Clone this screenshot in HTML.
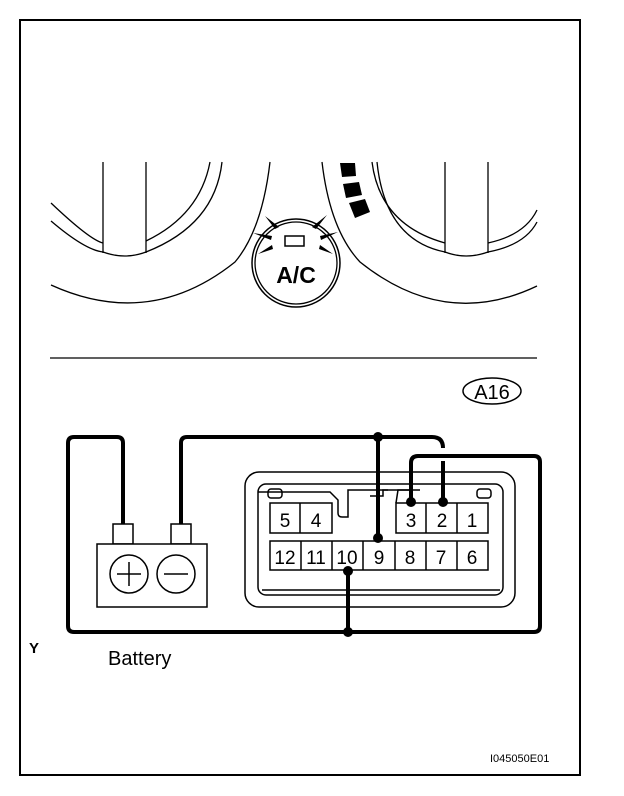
<!DOCTYPE html>
<html><head><style>
body{margin:0;background:#fff}
svg{display:block}
text{font-family:"Liberation Sans",sans-serif;fill:#000}
</style></head><body>
<svg width="624" height="796" viewBox="0 0 624 796" xmlns="http://www.w3.org/2000/svg">
<rect x="20" y="20" width="560" height="755" fill="none" stroke="#000" stroke-width="2"/>
<g fill="none" stroke="#000" stroke-width="1.3">
<!-- left dial -->
<path d="M51,203 Q90,240 103,243"/>
<path d="M146,241 Q200,215 210,162"/>
<path d="M51,221 Q85,250 103,252 Q125,260 146,252 Q215,225 222,162"/>
<line x1="103" y1="162" x2="103" y2="253"/>
<line x1="146" y1="162" x2="146" y2="253"/>
<path d="M51,285 Q150,330 235,262 Q262,230 270,162"/>
<!-- right dial -->
<path d="M322,162 Q330,230 360,262 Q445,330 537,286"/>
<path d="M372,162 Q380,225 445,243"/>
<path d="M488,243 Q525,235 537,210"/>
<path d="M377,162 Q385,240 445,252 Q466,260 488,252 Q525,245 537,222"/>
<line x1="445" y1="162" x2="445" y2="253"/>
<line x1="488" y1="162" x2="488" y2="253"/>
<!-- A/C button -->
<circle cx="296" cy="263" r="44" stroke-width="1.5"/>
<circle cx="296" cy="263" r="41"/>
<rect x="285" y="236" width="19" height="10" stroke-width="1.5"/>
</g>
<g fill="#000">
<polygon points="340,163 355,163 356,176 342,177"/>
<polygon points="343,184 359,182 362,195 346,198"/>
<polygon points="349,203 365,199 370,212 355,218"/>
<polygon points="265,216 279,227 275,229"/>
<polygon points="327,215 316,229 312,227"/>
<polygon points="253,233 272,236 271,240"/>
<polygon points="338,232 321,240 320,236"/>
<polygon points="258,254 272,245 273,249"/>
<polygon points="333,254 319,249 320,245"/>
</g>
<text x="296" y="283" font-size="23" font-weight="bold" text-anchor="middle">A/C</text>
<line x1="50" y1="358" x2="537" y2="358" stroke="#000" stroke-width="1.3"/>
<ellipse cx="492" cy="391" rx="29" ry="13" fill="none" stroke="#000" stroke-width="1.5"/>
<text x="492" y="399" font-size="20" text-anchor="middle">A16</text>
<!-- connector -->
<g fill="none" stroke="#000" stroke-width="1.5">
<rect x="245" y="472" width="270" height="135" rx="14"/>
<rect x="258" y="484" width="245" height="111" rx="8"/>
<rect x="270" y="503" width="62" height="30"/>
<line x1="300" y1="503" x2="300" y2="533"/>
<rect x="396" y="503" width="92" height="30"/>
<line x1="426" y1="503" x2="426" y2="533"/><line x1="457" y1="503" x2="457" y2="533"/>
<rect x="270" y="541" width="218" height="29"/>
<line x1="301" y1="541" x2="301" y2="570"/><line x1="332" y1="541" x2="332" y2="570"/>
<line x1="363" y1="541" x2="363" y2="570"/><line x1="395" y1="541" x2="395" y2="570"/>
<line x1="426" y1="541" x2="426" y2="570"/><line x1="457" y1="541" x2="457" y2="570"/>
<path d="M258,492 L330,492 L338,500 L338,513 Q338,517 342,517 L348,517 L348,490 L388,490"/>
<path d="M410,490 L383,490 L383,496 L370,496"/>
<path d="M420,490 L398,490 L396,503"/>
<line x1="262" y1="590" x2="500" y2="590"/>
<rect x="268" y="489" width="14" height="9" rx="3"/>
<rect x="477" y="489" width="14" height="9" rx="3"/>
</g>
<g font-size="19">
<text x="285" y="527" text-anchor="middle">5</text><text x="316" y="527" text-anchor="middle">4</text>
<text x="411" y="527" text-anchor="middle">3</text><text x="442" y="527" text-anchor="middle">2</text><text x="472" y="527" text-anchor="middle">1</text>
<text x="285" y="564" text-anchor="middle">12</text><text x="316" y="564" text-anchor="middle">11</text><text x="347" y="564" text-anchor="middle">10</text>
<text x="379" y="564" text-anchor="middle">9</text><text x="410" y="564" text-anchor="middle">8</text><text x="441" y="564" text-anchor="middle">7</text><text x="472" y="564" text-anchor="middle">6</text>
</g>
<!-- wires -->
<g fill="none" stroke="#000" stroke-width="4">
<path d="M123,524 L123,443 Q123,437 117,437 L74,437 Q68,437 68,443 L68,626 Q68,632 74,632 L534,632 Q540,632 540,626 L540,462 Q540,456 534,456 L418,456 Q411,456 411,463 L411,502"/>
<path d="M181,524 L181,443 Q181,437 187,437 L432,437 Q443,437 443,448"/>
<line x1="443" y1="461" x2="443" y2="502"/>
<line x1="378" y1="437" x2="378" y2="538"/>
<line x1="348" y1="571" x2="348" y2="632"/>
</g>
<g fill="#000">
<circle cx="378" cy="437" r="5"/><circle cx="378" cy="538" r="5"/>
<circle cx="411" cy="502" r="5"/><circle cx="443" cy="502" r="5"/>
<circle cx="348" cy="571" r="5"/><circle cx="348" cy="632" r="5"/>
</g>
<!-- battery -->
<g fill="#fff" stroke="#000" stroke-width="1.5">
<rect x="113" y="524" width="20" height="20"/>
<rect x="171" y="524" width="20" height="20"/>
<rect x="97" y="544" width="110" height="63"/>
<circle cx="129" cy="574" r="19"/>
<circle cx="176" cy="574" r="19"/>
</g>
<g stroke="#000" stroke-width="1.5">
<line x1="117" y1="574" x2="141" y2="574"/><line x1="129" y1="562" x2="129" y2="586"/>
<line x1="164" y1="574" x2="188" y2="574"/>
</g>
<text x="108" y="665" font-size="20">Battery</text>
<text x="29" y="653" font-size="15" font-weight="bold">Y</text>
<text x="490" y="762" font-size="11">I045050E01</text>
</svg>
</body></html>
